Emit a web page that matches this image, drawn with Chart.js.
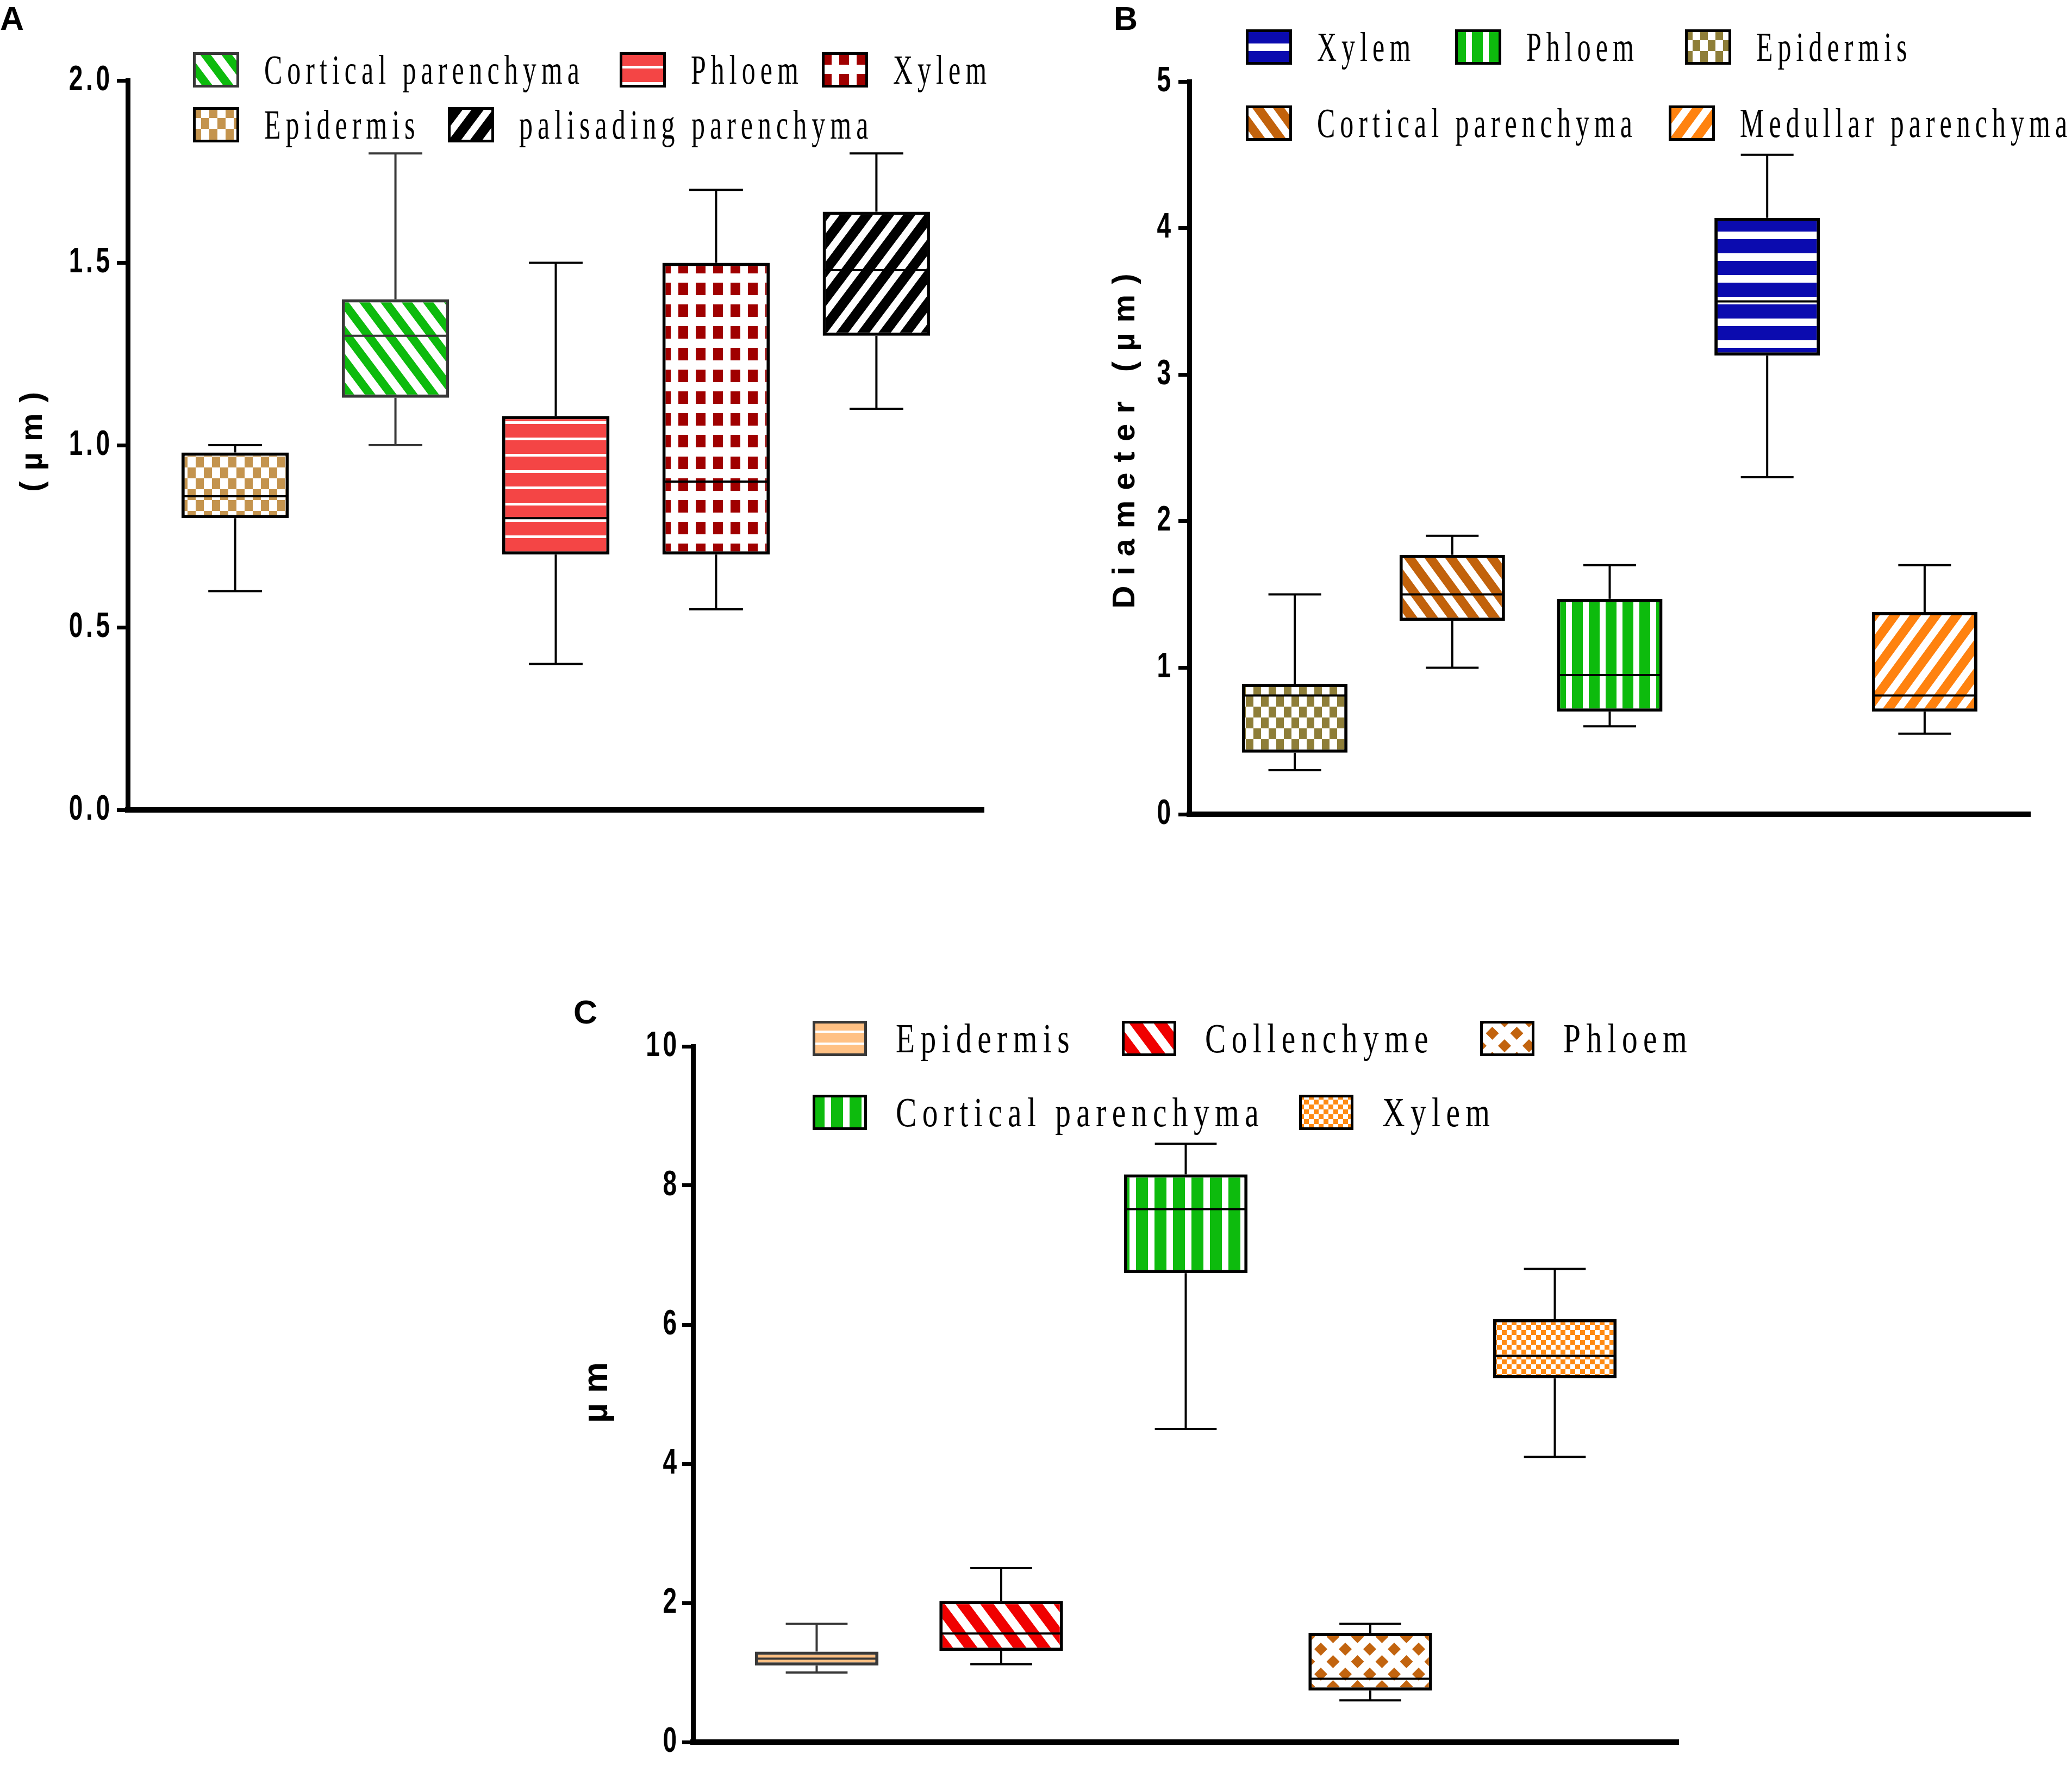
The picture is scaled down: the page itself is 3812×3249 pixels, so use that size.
<!DOCTYPE html>
<html>
<head>
<meta charset="utf-8">
<title>Cell diameters</title>
<script src="https://cdn.jsdelivr.net/npm/chart.js@4.4.1/dist/chart.umd.min.js"></script>
<style>
  html, body { margin: 0; padding: 0; background: #fff; }
  #page { position: relative; width: 3812px; height: 3249px; overflow: hidden; background: #fff; }
  .panel { position: absolute; }
  .letter { position: absolute; font: bold 61px 'Liberation Sans', Arial, sans-serif; line-height: 1; color: #000; }
  .swatch { position: absolute; }
  .lg-text { position: absolute; white-space: nowrap; line-height: 1; color: #000;
             font-family: 'Liberation Serif', 'Times New Roman', serif; transform-origin: 0 50%; }
</style>
</head>
<body>
<div id="page"></div>
<script>
// Panel A
const labelsA = ['Epidermis', 'Cortical parenchyma', 'Phloem', 'Xylem', 'palisading parenchyma'];
const minA = [0.6, 1.0, 0.4, 0.55, 1.1];
const q1A = [0.8, 1.13, 0.7, 0.7, 1.3];
const medianA = [0.86, 1.3, 0.8, 0.9, 1.48];
const q3A = [0.98, 1.4, 1.08, 1.5, 1.64];
const maxA = [1.0, 1.8, 1.5, 1.7, 1.8];
const legendOrderA = ['Cortical parenchyma', 'Phloem', 'Xylem', 'Epidermis', 'palisading parenchyma'];
const ticksA = ['0.0', '0.5', '1.0', '1.5', '2.0'];
const titleA = '(µm)';

// Panel B
const labelsB = ['Epidermis', 'Cortical parenchyma', 'Phloem', 'Xylem', 'Medullar parenchyma'];
const minB = [0.3, 1.0, 0.6, 2.3, 0.55];
const q1B = [0.42, 1.32, 0.7, 3.13, 0.7];
const medianB = [0.81, 1.5, 0.95, 3.5, 0.81];
const q3B = [0.89, 1.77, 1.47, 4.07, 1.38];
const maxB = [1.5, 1.9, 1.7, 4.5, 1.7];
const legendOrderB = ['Xylem', 'Phloem', 'Epidermis', 'Cortical parenchyma', 'Medullar parenchyma'];
const ticksB = ['0', '1', '2', '3', '4', '5'];
const titleB = 'Diameter (µm)';

// Panel C
const labelsC = ['Epidermis', 'Collenchyme', 'Cortical parenchyma', 'Phloem', 'Xylem'];
const minC = [1.0, 1.12, 4.5, 0.6, 4.1];
const q1C = [1.1, 1.31, 6.74, 0.74, 5.23];
const medianC = [1.2, 1.56, 7.66, 0.91, 5.55];
const q3C = [1.3, 2.03, 8.16, 1.57, 6.08];
const maxC = [1.7, 2.5, 8.6, 1.7, 6.8];
const legendOrderC = ['Epidermis', 'Collenchyme', 'Phloem', 'Cortical parenchyma', 'Xylem'];
const ticksC = ['0', '2', '4', '6', '8', '10'];
const titleC = 'µm';

// fill patterns, one per box (same order as the labels)
const fillsA = [
  { kind: 'check', color: '#C4944E', w: 15, h: 20 },
  { kind: 'down', color: '#0DBB0D', w: 39, h: 52, f: 0.5 },
  { kind: 'hline', color: '#F44545', p: 30, t: 5 },
  { kind: 'block', color: '#A00000', w: 32, h: 40, bw: 18, bh: 23 },
  { kind: 'up', color: '#000000', w: 39, h: 52, f: 0.42 }
];
const edgesA = ['#000', '#383838', '#000', '#000', '#000'];

const fillsB = [
  { kind: 'check', color: '#8E7E38', w: 14, h: 20 },
  { kind: 'down', color: '#C2620B', w: 38, h: 52, f: 0.45 },
  { kind: 'vline', color: '#0DBB0D', p: 31, t: 11 },
  { kind: 'hline', color: '#0B0BAF', p: 40, t: 14 },
  { kind: 'up', color: '#FF820F', w: 38, h: 52, f: 0.45 }
];
const edgesB = ['#000', '#000', '#000', '#000', '#000'];

const fillsC = [
  { kind: 'hline', color: '#FFC184', p: 22, t: 4 },
  { kind: 'down', color: '#F00000', w: 45, h: 60, f: 0.45 },
  { kind: 'vline', color: '#0DBB0D', p: 34, t: 12 },
  { kind: 'diamond', color: '#C2640F', w: 45, h: 46, r: 12 },
  { kind: 'check', color: '#FF8A12', w: 9, h: 9 }
];
const edgesC = ['#383838', '#000', '#000', '#000', '#000'];

function makePattern(ctx, s) {
  const tile = document.createElement('canvas');
  const t = tile.getContext('2d');
  if (s.kind === 'check') {
    tile.width = s.w * 2; tile.height = s.h * 2;
    t.fillStyle = '#fff'; t.fillRect(0, 0, tile.width, tile.height);
    t.fillStyle = s.color;
    t.fillRect(0, 0, s.w, s.h); t.fillRect(s.w, s.h, s.w, s.h);
  } else if (s.kind === 'hline') {
    tile.width = 8; tile.height = s.p;
    t.fillStyle = s.color; t.fillRect(0, 0, 8, s.p);
    t.fillStyle = '#fff'; t.fillRect(0, s.p - s.t, 8, s.t);
  } else if (s.kind === 'vline') {
    tile.width = s.p; tile.height = 8;
    t.fillStyle = s.color; t.fillRect(0, 0, s.p, 8);
    t.fillStyle = '#fff'; t.fillRect(s.p - s.t, 0, s.t, 8);
  } else if (s.kind === 'block') {
    tile.width = s.w; tile.height = s.h;
    t.fillStyle = '#fff'; t.fillRect(0, 0, s.w, s.h);
    t.fillStyle = s.color; t.fillRect(0, 0, s.bw, s.bh);
  } else if (s.kind === 'down' || s.kind === 'up') {
    tile.width = s.w; tile.height = s.h;
    t.fillStyle = s.color; t.fillRect(0, 0, s.w, s.h);
    t.strokeStyle = '#fff';
    t.lineWidth = s.f * s.w * s.h / Math.hypot(s.w, s.h);
    t.beginPath();
    for (let k = -1; k <= 1; k++) {
      if (s.kind === 'down') { t.moveTo(k * s.w - s.w, -s.h); t.lineTo(k * s.w + 2 * s.w, 2 * s.h); }
      else { t.moveTo(k * s.w - s.w, 2 * s.h); t.lineTo(k * s.w + 2 * s.w, -s.h); }
    }
    t.stroke();
  } else if (s.kind === 'diamond') {
    tile.width = s.w; tile.height = s.h;
    t.fillStyle = '#fff'; t.fillRect(0, 0, s.w, s.h);
    t.fillStyle = s.color;
    [[s.w / 2, s.h / 2], [0, 0], [s.w, 0], [0, s.h], [s.w, s.h]].forEach(([cx, cy]) => {
      t.beginPath();
      t.moveTo(cx, cy - s.r); t.lineTo(cx + s.r, cy); t.lineTo(cx, cy + s.r); t.lineTo(cx - s.r, cy);
      t.closePath(); t.fill();
    });
  }
  return ctx.createPattern(tile, 'repeat');
}

// whiskers, caps and median line for each floating bar
const boxWhiskers = {
  id: 'boxWhiskers',
  afterDatasetsDraw(chart) {
    const ctx = chart.ctx;
    const y = chart.scales.y;
    chart.data.datasets.forEach((ds, di) => {
      chart.getDatasetMeta(di).data.forEach((bar, i) => {
        const { x, width } = bar.getProps(['x', 'width'], true);
        const lo = y.getPixelForValue(ds.stats.min[i]);
        const hi = y.getPixelForValue(ds.stats.max[i]);
        const med = y.getPixelForValue(ds.stats.median[i]);
        const q1 = y.getPixelForValue(ds.data[i].y[0]);
        const q3 = y.getPixelForValue(ds.data[i].y[1]);
        ctx.save();
        ctx.strokeStyle = ds.borderColor[i];
        ctx.lineWidth = 4;
        ctx.beginPath();
        ctx.moveTo(x, q3); ctx.lineTo(x, hi);
        ctx.moveTo(x - width / 4, hi); ctx.lineTo(x + width / 4, hi);
        ctx.moveTo(x, q1); ctx.lineTo(x, lo);
        ctx.moveTo(x - width / 4, lo); ctx.lineTo(x + width / 4, lo);
        ctx.moveTo(x - width / 2 + 3, med); ctx.lineTo(x + width / 2 - 3, med);
        ctx.stroke();
        ctx.restore();
      });
    });
  }
};

// letter spacing (and narrow digits) for the y tick labels and the y title
const spacedText = {
  id: 'spacedText',
  beforeDraw(chart, args, opts) {
    const s = chart.scales.y;
    if (s._spaced) return;
    const drawLabels = s.drawLabels;
    const drawTitle = s.drawTitle;
    s.drawLabels = function (area) {
      const c = this.ctx;
      const r = this.right - this.options.grid.tickLength - this.options.ticks.padding;
      c.save();
      c.letterSpacing = opts.ticks;
      c.translate(r, 0); c.scale(opts.narrow, 1); c.translate(-r, 0);
      drawLabels.call(this, area);
      c.restore();
    };
    s.drawTitle = function () {
      const c = this.ctx;
      c.save();
      c.letterSpacing = opts.title;
      c.translate(0, -opts.titleShift);
      drawTitle.call(this);
      c.restore();
    };
    s._spaced = true;
  }
};

const panels = [
  {
    letter: 'A', letterPos: [0, 4],
    labels: labelsA, min: minA, q1: q1A, median: medianA, q3: q3A, max: maxA,
    ticks: ticksA, step: 0.5, yMax: 2, title: titleA, fills: fillsA, edges: edgesA,
    box: { left: 0, top: 0, width: 1840, height: 1560 },
    area: { axis: 235, top: 148, right: 30, bottom: 70 },
    titleSize: 58, titlePad: 26, titleSpacing: '20px', titleShift: 16, tickPad: 7,
    legend: { order: legendOrderA, size: 50, spacing: 9, stretch: 1.54, sw: 85, sh: 65, gap: 46,
              rows: [{ y: 128, x: [355, 1140, 1512] }, { y: 229, x: [355, 824] }] }
  },
  {
    letter: 'B', letterPos: [2049, 4],
    labels: labelsB, min: minB, q1: q1B, median: medianB, q3: q3B, max: maxB,
    ticks: ticksB, step: 1, yMax: 5, title: titleB, fills: fillsB, edges: edgesB,
    box: { left: 1900, top: 0, width: 1912, height: 1560 },
    area: { axis: 288, top: 150, right: 77, bottom: 62 },
    titleSize: 58, titlePad: 136, titleSpacing: '19px', titleShift: 22, tickPad: 8,
    legend: { order: legendOrderB, size: 50, spacing: 9, stretch: 1.54, sw: 85, sh: 65, gap: 46,
              rows: [{ y: 86, x: [2292, 2677, 3100] }, { y: 226, x: [2292, 3070] }] }
  },
  {
    letter: 'C', letterPos: [1055, 1832],
    labels: labelsC, min: minC, q1: q1C, median: medianC, q3: q3C, max: maxC,
    ticks: ticksC, step: 2, yMax: 10, title: titleC, fills: fillsC, edges: edgesC,
    box: { left: 900, top: 1700, width: 2300, height: 1549 },
    area: { axis: 375, top: 225, right: 112, bottom: 44 },
    titleSize: 64, titlePad: 161, titleSpacing: '18px', titleShift: 12, tickPad: 4,
    legend: { order: legendOrderC, size: 57.5, spacing: 10.4, stretch: 1.34, sw: 100, sh: 65, gap: 53,
              rows: [{ y: 1910, x: [1495, 2064, 2723] }, { y: 2046, x: [1495, 2390] }] }
  }
];

const page = document.getElementById('page');
const tickFont = { family: "'Liberation Sans', Arial, sans-serif", size: 64, weight: 'bold' };
const titleFamily = "'Liberation Sans', Arial, sans-serif";

function drawLegend(p) {
  const lg = p.legend;
  let n = 0;
  lg.rows.forEach(row => {
    row.x.forEach(x => {
      const name = lg.order[n++];
      const idx = p.labels.indexOf(name);
      const sw = document.createElement('canvas');
      sw.className = 'swatch';
      sw.width = lg.sw; sw.height = lg.sh;
      sw.style.left = x + 'px';
      sw.style.top = (row.y - lg.sh / 2) + 'px';
      const c = sw.getContext('2d');
      c.fillStyle = makePattern(c, p.fills[idx]);
      c.fillRect(0, 0, lg.sw, lg.sh);
      c.strokeStyle = p.edges[idx];
      c.lineWidth = 5;
      c.strokeRect(2.5, 2.5, lg.sw - 5, lg.sh - 5);
      page.appendChild(sw);

      const tx = document.createElement('span');
      tx.className = 'lg-text';
      tx.textContent = name;
      tx.style.left = (x + lg.sw + lg.gap) + 'px';
      tx.style.top = row.y + 'px';
      tx.style.fontSize = lg.size + 'px';
      tx.style.letterSpacing = lg.spacing + 'px';
      tx.style.transform = 'translateY(-50%) scaleY(' + lg.stretch + ')';
      page.appendChild(tx);
    });
  });
}

function buildPanel(p) {
  const wrap = document.createElement('div');
  wrap.className = 'panel';
  wrap.style.left = p.box.left + 'px';
  wrap.style.top = p.box.top + 'px';
  wrap.style.width = p.box.width + 'px';
  wrap.style.height = p.box.height + 'px';
  const canvas = document.createElement('canvas');
  canvas.width = p.box.width;
  canvas.height = p.box.height;
  wrap.appendChild(canvas);
  page.appendChild(wrap);

  const letter = document.createElement('div');
  letter.className = 'letter';
  letter.textContent = p.letter;
  letter.style.left = p.letterPos[0] + 'px';
  letter.style.top = p.letterPos[1] + 'px';
  page.appendChild(letter);

  const ctx = canvas.getContext('2d');
  const positions = p.labels.map((_, i) => i + 1);

  new Chart(ctx, {
    type: 'bar',
    data: {
      datasets: [{
        label: p.letter,
        data: positions.map((x, i) => ({ x: x, y: [p.q1[i], p.q3[i]] })),
        stats: { min: p.min, median: p.median, max: p.max },
        backgroundColor: p.fills.map(f => makePattern(ctx, f)),
        borderColor: p.edges,
        borderWidth: 6,
        borderSkipped: false,
        grouped: false,
        categoryPercentage: 1,
        barPercentage: 0.67
      }]
    },
    options: {
      responsive: false,
      animation: false,
      devicePixelRatio: 1,
      layout: { padding: { left: 0, top: p.area.top, right: p.area.right, bottom: p.area.bottom } },
      plugins: {
        legend: { display: false },
        tooltip: { enabled: false },
        spacedText: { ticks: '8px', narrow: 0.72, title: p.titleSpacing, titleShift: p.titleShift }
      },
      scales: {
        x: {
          type: 'linear',
          min: 0.33,
          max: 5.67,
          offset: false,
          afterBuildTicks: s => { s.ticks = positions.map(v => ({ value: v })); },
          afterFit: s => { s.height = 0; },
          ticks: { display: false },
          grid: { display: false, offset: false },
          border: { display: true, color: '#000', width: 10 }
        },
        y: {
          min: 0,
          max: p.yMax,
          afterBuildTicks: s => { s.ticks = p.ticks.map((_, i) => ({ value: i * p.step })); },
          afterFit: s => { s.width = p.area.axis; },
          ticks: {
            color: '#000',
            font: tickFont,
            padding: p.tickPad,
            callback: (v, i) => p.ticks[i]
          },
          grid: { drawOnChartArea: false, drawTicks: true, tickLength: 20, tickWidth: 7, tickColor: '#000' },
          border: { display: true, color: '#000', width: 9 },
          title: {
            display: true,
            text: p.title,
            color: '#000',
            font: { family: titleFamily, size: p.titleSize, weight: 'bold' },
            padding: { top: p.titlePad, bottom: 0 }
          }
        }
      }
    },
    plugins: [boxWhiskers, spacedText]
  });

  drawLegend(p);
}

panels.forEach(buildPanel);
</script>
</body>
</html>
